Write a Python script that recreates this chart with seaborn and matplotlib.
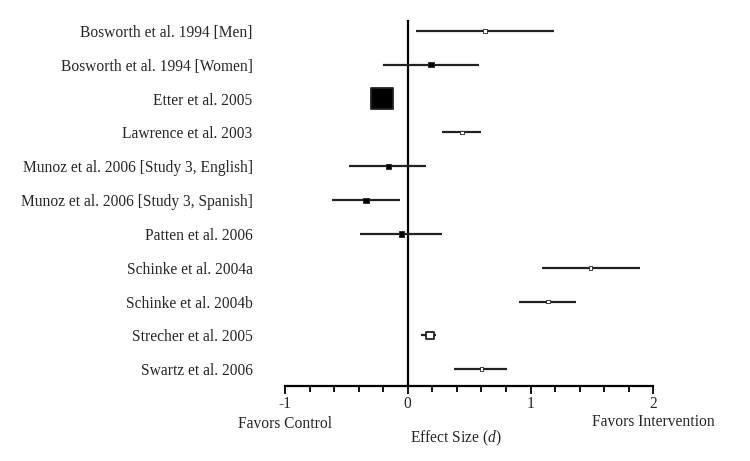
import numpy as np
import pandas as pd
import matplotlib
matplotlib.use("Agg")
import matplotlib.pyplot as plt
import seaborn as sns

# 研究名称与效应量
studies = [
    "Bosworth et al. 1994 [Men]",
    "Bosworth et al. 1994 [Women]",
    "Etter et al. 2005",
    "Lawrence et al. 2003",
    "Munoz et al. 2006 [Study 3, English]",
    "Munoz et al. 2006 [Study 3, Spanish]",
    "Patten et al. 2006",
    "Schinke et al. 2004a",
    "Schinke et al. 2004b",
    "Strecher et al. 2005",
    "Swartz et al. 2006",
]
effect = [0.63, 0.19, -0.21, 0.44, -0.16, -0.34, -0.05, 1.49, 1.14, 0.18, 0.60]
ci_low = [0.07, -0.20, -0.25, 0.28, -0.48, -0.62, -0.39, 1.09, 0.91, 0.11, 0.38]
ci_high = [1.19, 0.58, -0.17, 0.60, 0.15, -0.06, 0.28, 1.89, 1.37, 0.23, 0.81]
filled = [False, True, True, False, True, True, True, False, False, False, False]

# 标记大小（样式）
marker_area = [7, 14, 230, 7, 14, 14, 14, 7, 7, 30, 7]

sns.set_style("white")
plt.rcParams['font.family'] = ['Liberation Serif', 'DejaVu Serif']
plt.rcParams['mathtext.fontset'] = 'custom'
plt.rcParams['mathtext.rm'] = 'Liberation Serif'
plt.rcParams['mathtext.it'] = 'Liberation Serif:italic'

fs = 11.2

df = pd.DataFrame({"study": studies, "d": effect, "lo": ci_low, "hi": ci_high,
                   "filled": filled})
df["row"] = np.arange(len(df))

fig = plt.figure(figsize=(7.5, 4.61), dpi=100)
ax = fig.add_axes([0.38, 0.163, 0.491, 0.794])

# 零线
ax.axvline(0, color="black", lw=1.6, zorder=1)

# 置信区间
ax.hlines(df["row"], df["lo"], df["hi"], color="#222222", lw=1.6, zorder=2)

# 点估计
sns.scatterplot(data=df, x="d", y="row", hue="filled", size="study",
                sizes=dict(zip(studies, marker_area)),
                palette={True: "black", False: "white"},
                marker="s", edgecolor="#222222", linewidth=0.8,
                legend=False, ax=ax, zorder=3)
ax.collections[-1].set_linewidths([1.3 if a >= 30 else 0.6 for a in marker_area])

ax.set_xlim(-1, 2)
ax.set_ylim(len(df) - 0.51, -0.33)
ax.set_yticks(df["row"])
ax.set_yticklabels(studies, fontsize=fs)
ax.tick_params(axis="y", left=False, length=0, pad=23.3)
ax.set_xticks([-1, 0, 1, 2])
ax.set_xticklabels(["-1", "0", "1", "2"], fontsize=fs)
ax.set_xticks(np.arange(-1, 2.01, 0.2), minor=True)
ax.tick_params(axis="x", which="both", bottom=True)
ax.tick_params(axis="x", which="major", direction="out", length=6, width=1.3,
               pad=1, color="black")
ax.tick_params(axis="x", which="minor", direction="out", length=4, width=1.3,
               color="black")
ax.set_xlabel("")
ax.set_ylabel("")

for s in ["top", "right", "left"]:
    ax.spines[s].set_visible(False)
ax.spines["bottom"].set_linewidth(1.6)
ax.spines["bottom"].set_color("black")

ax.text(0.0, -0.103, "Favors Control", transform=ax.transAxes,
        ha="center", va="center", fontsize=fs)
ax.text(1.0, -0.100, "Favors Intervention", transform=ax.transAxes,
        ha="center", va="center", fontsize=fs)
ax.text(0.465, -0.143, "Effect Size ($\\it{d}$)", transform=ax.transAxes,
        ha="center", va="center", fontsize=fs)

fig.savefig("out.png", dpi=100)
